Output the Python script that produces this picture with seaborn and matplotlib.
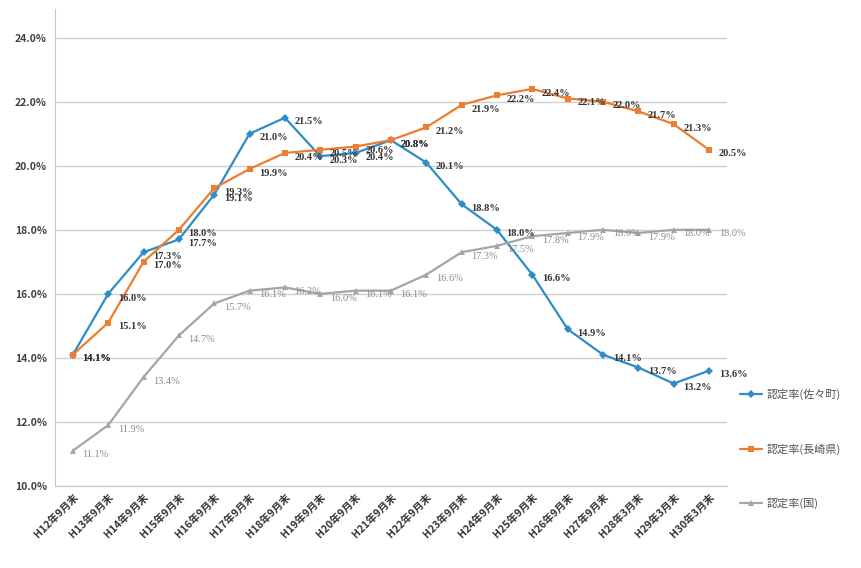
import matplotlib
matplotlib.use("Agg")
import matplotlib.pyplot as plt
from matplotlib.ticker import FixedLocator, PercentFormatter
import seaborn as sns
import pandas as pd
import numpy as np

categories = ["H12年9月末", "H13年9月末", "H14年9月末", "H15年9月末", "H16年9月末",
              "H17年9月末", "H18年9月末", "H19年9月末", "H20年9月末", "H21年9月末",
              "H22年9月末", "H23年9月末", "H24年9月末", "H25年9月末", "H26年9月末",
              "H27年9月末", "H28年3月末", "H29年3月末", "H30年3月末"]
sasa = [14.1, 16.0, 17.3, 17.7, 19.1, 21.0, 21.5, 20.3, 20.4, 20.8,
        20.1, 18.8, 18.0, 16.6, 14.9, 14.1, 13.7, 13.2, 13.6]
nagasaki = [14.1, 15.1, 17.0, 18.0, 19.3, 19.9, 20.4, 20.5, 20.6, 20.8,
            21.2, 21.9, 22.2, 22.4, 22.1, 22.0, 21.7, 21.3, 20.5]
national = [11.1, 11.9, 13.4, 14.7, 15.7, 16.1, 16.2, 16.0, 16.1, 16.1,
            16.6, 17.3, 17.5, 17.8, 17.9, 18.0, 17.9, 18.0, 18.0]
series_names = ["認定率(佐々町)", "認定率(長崎県)", "認定率(国)"]
colors = ["#2E8CC6", "#ED7D31", "#A5A5A5"]
markers = ["D", "s", "^"]
yticks = [10.0, 12.0, 14.0, 16.0, 18.0, 20.0, 22.0, 24.0]

sns.set_style("white")
plt.rcParams["font.family"] = ["Noto Sans CJK JP", "DejaVu Sans"]

rows = []
for name, vals in zip(series_names, [sasa, nagasaki, national]):
    for i, v in enumerate(vals):
        rows.append({"x": i, "rate": v, "series": name})
df = pd.DataFrame(rows)

fig = plt.figure(figsize=(8.62, 5.68), dpi=100)
ax = fig.add_axes([0.064, 0.1444, 0.779, 0.84])

sns.lineplot(data=df, x="x", y="rate", hue="series", style="series",
             palette=dict(zip(series_names, colors)),
             markers=dict(zip(series_names, markers)),
             dashes=False, markersize=4, linewidth=1.6,
             markeredgewidth=0, ax=ax, legend=True)

# data labels
label_colors = ["#333333", "#333333", "#8A8A8A"]
for vals, lc, name in zip([sasa, nagasaki, national], label_colors, series_names):
    for i, v in enumerate(vals):
        ax.annotate(f"{v:.1f}%", (i, v), xytext=(7, -3), textcoords="offset points",
                    fontsize=7.5, color=lc, va="center", ha="left",
                    family=["Liberation Serif", "DejaVu Serif"],
                    fontweight="bold" if name != series_names[2] else "normal")

ax.set_xlim(-0.5, len(categories) - 0.5)
ax.set_ylim(10, 24.9)
ax.yaxis.set_major_locator(FixedLocator(yticks))
ax.yaxis.set_major_formatter(PercentFormatter(decimals=1))
ax.set_xticks(range(len(categories)))
ax.set_xticklabels(categories, rotation=45, ha="right", rotation_mode="anchor",
                   fontsize=7.5, fontweight="bold", color="#333333")
ax.xaxis.set_minor_locator(FixedLocator(np.arange(-0.5, len(categories), 1.0)))
ax.tick_params(axis="x", which="major", length=0, pad=4)
ax.tick_params(axis="x", which="minor", length=4, color="#BFBFBF", direction="out")
ax.tick_params(axis="y", labelsize=7.5, labelcolor="#404040", length=0, pad=6)
for lab in ax.get_yticklabels():
    lab.set_fontweight("bold")
ax.grid(axis="y", color="#D0D0D0", linewidth=1)
ax.set_xlabel("")
ax.set_ylabel("")
for s in ["top", "right"]:
    ax.spines[s].set_visible(False)
ax.spines["left"].set_color("#C8C8C8")
ax.spines["bottom"].set_color("#C8C8C8")

handles, labels = ax.get_legend_handles_labels()
leg = ax.legend(handles, labels, loc="upper left", bbox_to_anchor=(1.008, 0.22),
                frameon=False, fontsize=8, labelspacing=3.9, handlelength=2.0,
                handletextpad=0.4, borderaxespad=0.3)
for t in leg.get_texts():
    t.set_color("#555555")

fig.savefig("out.png", dpi=100)
